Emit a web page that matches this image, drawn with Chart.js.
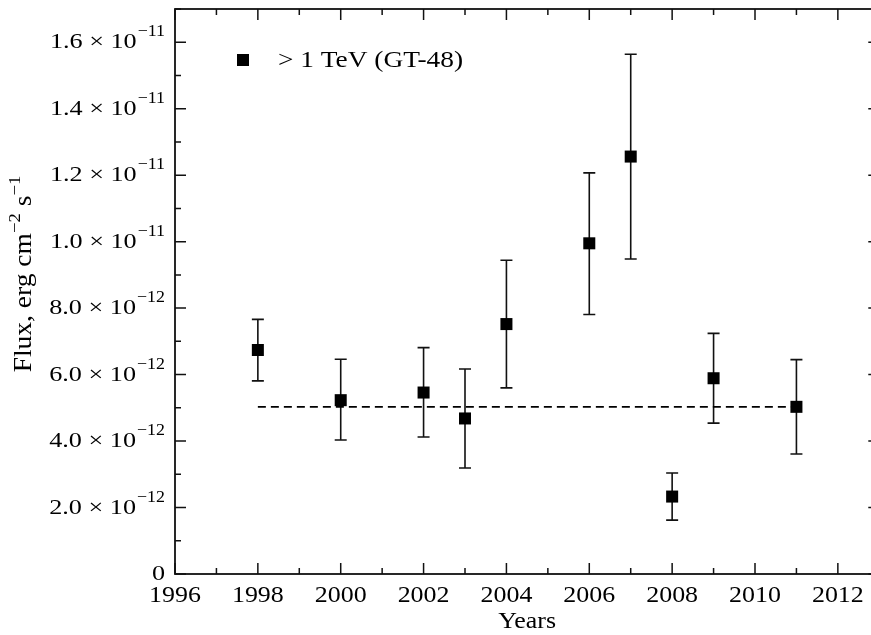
<!DOCTYPE html>
<html>
<head>
<meta charset="utf-8">
<script src="https://cdn.jsdelivr.net/npm/chart.js@4.4.1/dist/chart.umd.min.js"></script>
<style>
  html, body { margin: 0; padding: 0; background: #fff; overflow: hidden; }
  canvas { display: block; }
</style>
</head>
<body>
<canvas id="myChart" width="871" height="635"></canvas>
<script>
// data
const years = [1998, 2000, 2002, 2003, 2004, 2006, 2007, 2008, 2009, 2011];
const flux = [6.74e-12, 5.23e-12, 5.46e-12, 4.68e-12, 7.52e-12, 9.95e-12, 12.56e-12, 2.33e-12, 5.89e-12, 5.03e-12];
const fluxHi = [7.66e-12, 6.46e-12, 6.81e-12, 6.17e-12, 9.44e-12, 12.07e-12, 15.64e-12, 3.04e-12, 7.24e-12, 6.45e-12];
const fluxLo = [5.81e-12, 4.03e-12, 4.12e-12, 3.19e-12, 5.60e-12, 7.81e-12, 9.48e-12, 1.62e-12, 4.54e-12, 3.61e-12];

const meanYears = [1998, 2011];
const meanFlux = [5.03e-12, 5.03e-12];

const xTickValues = [1996, 1998, 2000, 2002, 2004, 2006, 2008, 2010, 2012];
const yTickValues = [0, 2e-12, 4e-12, 6e-12, 8e-12, 1.0e-11, 1.2e-11, 1.4e-11, 1.6e-11];
const yTickMain = ['0', '2.0 × 10', '4.0 × 10', '6.0 × 10', '8.0 × 10', '1.0 × 10', '1.2 × 10', '1.4 × 10', '1.6 × 10'];
const yTickExp = ['', '−12', '−12', '−12', '−12', '−11', '−11', '−11', '−11'];

// the original frame ends at 2013, just past the right edge of the picture
const xMin = 1996, xFrameEnd = 2013, xVisibleMax = 2012.8;
const yMin = 0, yMax = 1.7e-11;

const legendLabel = '> 1 TeV (GT-48)';
const xTitle = 'Years';
const serif = "'Liberation Serif', 'Times New Roman', serif";

const ctx = document.getElementById('myChart').getContext('2d');

// text widened a little to match the scan's letter widths
function stretchText(c, txt, x, y, size, sx, align) {
    c.save();
    c.font = size + 'px ' + serif;
    const w = c.measureText(txt).width * sx;
    let x0 = x;
    if (align === 'right') x0 = x - w;
    if (align === 'center') x0 = x - w / 2;
    c.translate(x0, y);
    c.scale(sx, 1);
    c.textAlign = 'left';
    c.textBaseline = 'alphabetic';
    c.fillText(txt, 0, 0);
    c.restore();
    return w;
}

function textWidth(c, txt, size, sx) {
    c.font = size + 'px ' + serif;
    return c.measureText(txt).width * sx;
}

const extras = {
    id: 'extras',
    beforeDatasetsDraw(chart) {
        const c = chart.ctx;
        const xs = chart.scales.x, ys = chart.scales.y;
        c.save();
        c.strokeStyle = '#111';
        c.lineWidth = 1.6;
        for (let i = 0; i < years.length; i++) {
            const px = xs.getPixelForValue(years[i]);
            const top = ys.getPixelForValue(fluxHi[i]);
            const bot = ys.getPixelForValue(fluxLo[i]);
            c.beginPath();
            c.moveTo(px, top); c.lineTo(px, bot);
            c.moveTo(px - 6, top); c.lineTo(px + 6, top);
            c.moveTo(px - 6, bot); c.lineTo(px + 6, bot);
            c.stroke();
        }
        c.restore();
    },
    afterDraw(chart) {
        const c = chart.ctx;
        const a = chart.chartArea;
        const xs = chart.scales.x, ys = chart.scales.y;
        const right = xs.getPixelForValue(xFrameEnd);
        c.save();
        c.strokeStyle = '#111';
        c.lineWidth = 1.8;
        c.strokeRect(a.left, a.top, right - a.left, a.bottom - a.top);

        // inward ticks on all four sides
        c.lineWidth = 1.5;
        c.beginPath();
        for (let yr = xMin; yr <= xFrameEnd; yr++) {
            const px = xs.getPixelForValue(yr);
            const len = yr % 2 === 0 ? 11 : 6;
            c.moveTo(px, a.bottom); c.lineTo(px, a.bottom - len);
            c.moveTo(px, a.top); c.lineTo(px, a.top + len);
        }
        for (let k = 0; k <= 17; k++) {
            const py = ys.getPixelForValue(k * 1e-12);
            const len = k % 2 === 0 ? 11 : 6;
            c.moveTo(a.left, py); c.lineTo(a.left + len, py);
            c.moveTo(right, py); c.lineTo(right - len, py);
        }
        c.stroke();

        c.fillStyle = '#000';

        // x tick labels and title
        xTickValues.forEach(v => {
            stretchText(c, String(v), xs.getPixelForValue(v), 601.5, 24, 1.08, 'center');
        });
        stretchText(c, xTitle, (a.left + right) / 2, 628, 24, 1.08, 'center');

        // y tick labels with superscript exponents
        const rightEdge = 165;
        for (let i = 0; i < yTickValues.length; i++) {
            const py = ys.getPixelForValue(yTickValues[i]);
            let ew = 0;
            if (yTickExp[i]) {
                ew = stretchText(c, yTickExp[i], rightEdge, py - 6, 16, 1.12, 'right') + 1;
            }
            stretchText(c, yTickMain[i], rightEdge - ew, py + 6, 22, 1.19, 'right');
        }

        // y axis title, rotated
        c.save();
        c.translate(30.5, 274);
        c.rotate(-Math.PI / 2);
        const parts = [['Flux, erg cm', 0], ['−2', 1], [' s', 0], ['−1', 1]];
        let total = 0;
        parts.forEach(p => { total += textWidth(c, p[0], p[1] ? 17 : 25, 1.1); });
        let x = -total / 2;
        parts.forEach(p => {
            x += stretchText(c, p[0], x, p[1] ? -11 : 0, p[1] ? 17 : 25, 1.1, 'left');
        });
        c.restore();

        // legend
        c.fillRect(237, 54, 12, 12);
        stretchText(c, legendLabel, 278, 67, 23, 1.19, 'left');
        c.restore();
    }
};

const chart = new Chart(ctx, {
    type: 'scatter',
    data: {
        datasets: [{
            label: legendLabel,
            data: years.map((y, i) => ({x: y, y: flux[i]})),
            pointStyle: 'rect',
            pointRadius: 8.5,
            pointHoverRadius: 8.5,
            backgroundColor: '#000',
            borderColor: '#000',
            borderWidth: 0,
            order: 1
        }, {
            type: 'line',
            label: 'mean',
            data: meanYears.map((y, i) => ({x: y, y: meanFlux[i]})),
            borderColor: '#000',
            borderWidth: 1.8,
            borderDash: [8, 5],
            pointRadius: 0,
            fill: false,
            order: 2
        }]
    },
    options: {
        responsive: false,
        animation: false,
        layout: { autoPadding: false, padding: { top: 9, right: 0, left: 0, bottom: 0 } },
        plugins: {
            legend: { display: false },
            tooltip: { enabled: false }
        },
        scales: {
            x: {
                type: 'linear',
                min: xMin,
                max: xVisibleMax,
                grid: { display: false, drawTicks: false },
                border: { display: false },
                ticks: { display: false },
                afterFit: s => { s.height = 61; }
            },
            y: {
                min: yMin,
                max: yMax,
                grid: { display: false, drawTicks: false },
                border: { display: false },
                ticks: { display: false },
                afterFit: s => { s.width = 175; }
            }
        }
    },
    plugins: [extras]
});
</script>
</body>
</html>
